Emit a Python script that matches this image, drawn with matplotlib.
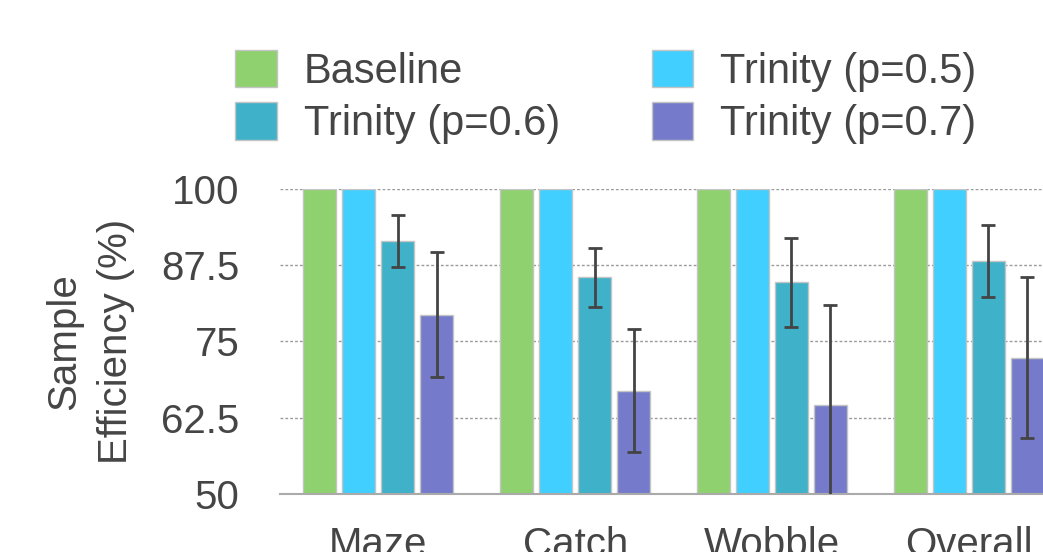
import numpy as np
import matplotlib
matplotlib.use('Agg')
import matplotlib.pyplot as plt

# values
tasks = ['Maze', 'Catch', 'Wobble', 'Overall']
labels = ['Baseline', 'Trinity (p=0.5)', 'Trinity (p=0.6)', 'Trinity (p=0.7)']
baseline = [100, 100, 100, 100]
trinity_05 = [100, 100, 100, 100]
trinity_06 = [91.5, 85.5, 84.7, 88.2]
trinity_06_err = [4.3, 4.8, 7.3, 5.9]
trinity_07 = [79.4, 66.9, 64.6, 72.3]
trinity_07_err = [10.3, 10.1, 16.3, 13.2]

colors = ['#8fd16f', '#40cfff', '#3fb1c9', '#757bca']
text_color = '#454545'

plt.rcParams['font.family'] = ['Liberation Sans', 'DejaVu Sans']
plt.rcParams['text.color'] = text_color

fig = plt.figure(figsize=(10.43, 5.52), dpi=100)
ax = fig.add_axes([280 / 1043, 1 - 493.7 / 552, 4 * 196.8 / 1043, (493.7 - 189) / 552])

x = np.arange(len(tasks))
width = 0.168
step = 0.198
series = [baseline, trinity_05, trinity_06, trinity_07]
errors = [None, None, trinity_06_err, trinity_07_err]

handles = []
for i, (vals, err) in enumerate(zip(series, errors)):
    pos = x + (i - 1.5) * step
    b = ax.bar(pos, vals, width, color=colors[i], edgecolor='#c4c4c4', linewidth=1,
               label=labels[i], zorder=2)
    handles.append(b)
    if err is not None:
        ax.errorbar(pos, vals, yerr=err, fmt='none', ecolor='#444444', elinewidth=2,
                    capsize=5, capthick=2, zorder=3, clip_on=True)

ax.set_xlim(-0.5, 3.5)
ax.set_ylim(50, 100)
ax.set_yticks([50, 62.5, 75, 87.5, 100])
ax.set_yticklabels(['50', '62.5', '75', '87.5', '100'])
ax.set_xticks(x)
ax.set_xticklabels(tasks)
ax.tick_params(axis='both', length=0, labelsize=29, colors=text_color)
ax.tick_params(axis='y', pad=29)
ax.tick_params(axis='x', pad=23)

ax.yaxis.grid(True, linestyle=(0, (2, 1.5)), color='#9a9a9a', linewidth=1, zorder=0)
ax.set_axisbelow(True)
for s in ['top', 'right', 'left']:
    ax.spines[s].set_visible(False)
ax.spines['bottom'].set_color('#aaaaaa')
ax.spines['bottom'].set_linewidth(1.5)

ax.set_ylabel('Sample\nEfficiency (%)', fontsize=29, color=text_color, labelpad=19,
              linespacing=1.45)

# legend order: Baseline, Trinity 0.6 | Trinity 0.5, Trinity 0.7
order = [0, 2, 1, 3]
fig.legend([handles[k] for k in order], [labels[k] for k in order], ncol=2,
           loc='upper left', bbox_to_anchor=(235 / 1043, 1 - 50 / 552), frameon=False,
           fontsize=30, handlelength=1.0, handleheight=1.0, handletextpad=0.65,
           columnspacing=2.2, labelspacing=0.25, borderpad=0, borderaxespad=0)

fig.savefig('out.png', dpi=100)
